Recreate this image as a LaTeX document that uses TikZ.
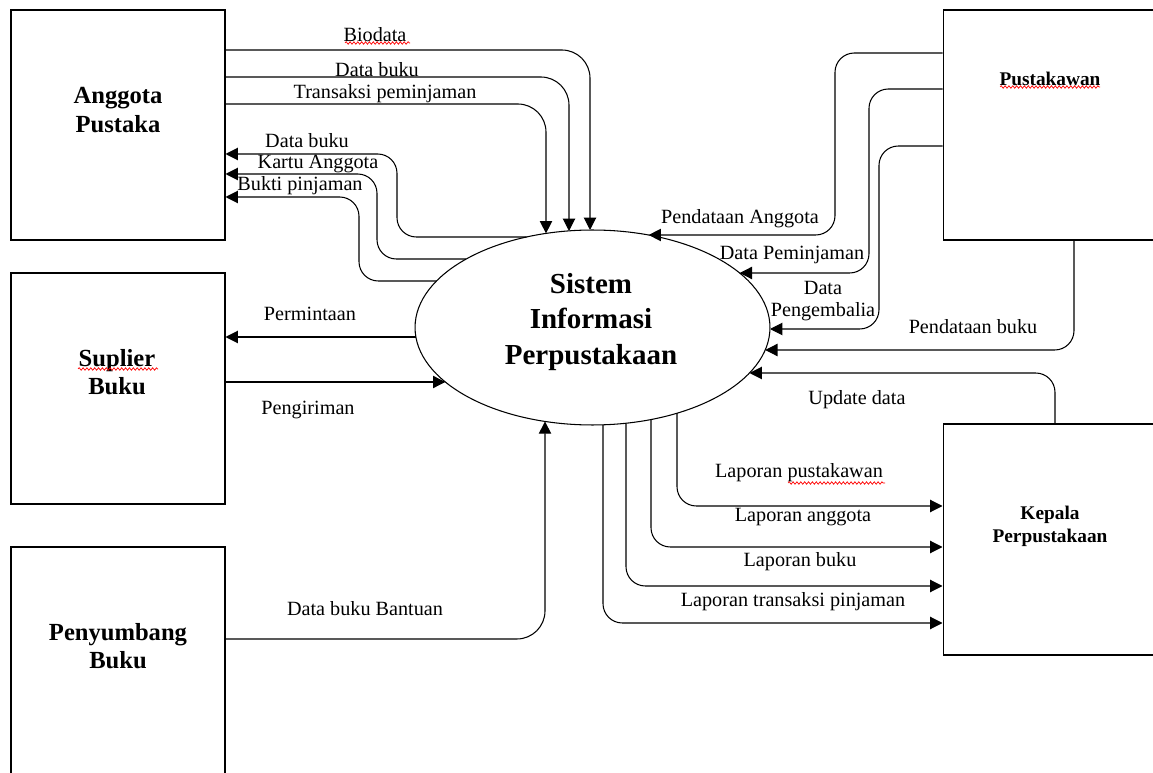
\documentclass[tikz,border=0pt]{standalone}
\usepackage{fontspec}
\setmainfont{Liberation Serif}
\usepackage{tikz}
\usetikzlibrary{arrows.meta}
\usetikzlibrary{shapes.geometric}
\usetikzlibrary{decorations.pathmorphing}

\begin{document}
\begin{tikzpicture}[x=0.02cm,y=-0.02cm]
	\useasboundingbox (0,0) rectangle (1153,773);
	\clip (0,0) rectangle (1153,773);
	\tikzstyle{flow}=[draw,line width=0.6pt,rounded corners=11pt,-{Triangle[length=7pt,width=7pt]}]
	\tikzstyle{squig}=[red,line width=0.4pt,decorate,decoration={snake,amplitude=0.7pt,segment length=2.2pt}]
	\tikzstyle{every node}=[draw,line width=0.6pt,shape=rectangle,minimum width=4.28cm,minimum height=4.6cm]
	\node (ap) at (118,125) {};
	\node (sb) at (118,388.5) [minimum height=4.62cm] {};
	\node (pb) at (118,673.5) [minimum height=5.06cm] {};
	\node (pk) at (1056.5,125) [minimum width=4.54cm] {};
	\node (kp) at (1056.5,539.5) [minimum width=4.54cm,minimum height=4.62cm] {};
	\tikzstyle{every node}=[draw,line width=0.6pt,shape=ellipse,minimum width=7.1cm,minimum height=3.9cm]
	\node (sys) at (592.5,327.5) {};
	\tikzstyle{every node}=[align=center,font=\bfseries\fontsize{14}{16}\selectfont]
	\node (apt) at (118,110) {Anggota\\Pustaka};
	\node (sbt) at (117,372) {Suplier\\Buku};
	\node (pbt) at (118,646) {Penyumbang\\Buku};
	\node (syst) at (591,322) [font=\bfseries\fontsize{16.5}{20}\selectfont] {Sistem\\Informasi\\Perpustakaan};
	\node (pkt) at (1050,79) [font=\bfseries\fontsize{11}{13}\selectfont] {Pustakawan};
	\node (kpt) at (1050,526) [font=\bfseries\fontsize{11}{13}\selectfont] {Kepala\\Perpustakaan};
	\tikzstyle{every node}=[align=center,font=\fontsize{11.5}{12.5}\selectfont]
	\node (lbio) at (375,35) {Biodata};
	\node (ldb1) at (377,70) {Data buku};
	\node (ltp) at (385,94) {Transaksi peminjaman};
	\node (ldb2) at (307,141) {Data buku};
	\node (lka) at (318,164) {Kartu Anggota};
	\node (lbp) at (300,186) {Bukti pinjaman};
	\node (lpm) at (310,314) {Permintaan};
	\node (lpg) at (308,410) {Pengiriman};
	\node (ldbb) at (365,609) {Data buku Bantuan};
	\node (lpa) at (740,219) {Pendataan Anggota};
	\node (ldp) at (792,255) {Data Peminjaman};
	\node (ldk) at (823,301) {Data\\Pengembalia};
	\node (lpb) at (973,327) {Pendataan buku};
	\node (lud) at (857,400) {Update data};
	\node (llp) at (799,473) {Laporan pustakawan};
	\node (lla) at (803,517) {Laporan anggota};
	\node (llb) at (800,562) {Laporan buku};
	\node (llt) at (793,602) {Laporan transaksi pinjaman};
	\coordinate (t1) at (546,233.4);
	\coordinate (t2) at (569,231);
	\coordinate (t3) at (590,230);
	\coordinate (l1) at (526.5,237);
	\coordinate (l2) at (466,259);
	\coordinate (l3) at (436.5,281);
	\coordinate (l4) at (415.8,337);
	\coordinate (l5) at (445.3,382);
	\coordinate (b0) at (545,421.4);
	\coordinate (r1) at (648.6,235);
	\coordinate (r2) at (739.7,273);
	\coordinate (r3) at (770,329);
	\coordinate (r4) at (765.2,350);
	\coordinate (r5) at (749.5,373);
	\coordinate (b1) at (677,413.2);
	\coordinate (b2) at (651,419.6);
	\coordinate (b3) at (626,423.3);
	\coordinate (b4) at (603,424.8);
	\draw[flow,rounded corners=16pt] (ap.east |- 0,50) -- (590,50) -- (t3);
	\draw[flow,rounded corners=16pt] (ap.east |- 0,77) -- (569,77) -- (t2);
	\draw[flow,rounded corners=16pt] (ap.east |- 0,104) -- (546,104) -- (t1);
	\draw[flow] (l1) -- (397,237) -- (397,154) -- (ap.east |- 0,154);
	\draw[flow] (l2) -- (377,259) -- (377,174) -- (ap.east |- 0,174);
	\draw[flow] (l3) -- (359,281) -- (359,197) -- (ap.east |- 0,197);
	\draw[flow] (l4) -- (sb.east |- l4);
	\draw[flow] (sb.east |- l5) -- (l5);
	\draw[flow,rounded corners=16pt] (pb.east |- 0,639) -- (545,639) -- (b0);
	\draw[flow] (pk.west |- 0,53) -- (835,53) -- (835,235) -- (r1);
	\draw[flow] (pk.west |- 0,89) -- (869,89) -- (869,273) -- (r2);
	\draw[flow] (pk.west |- 0,146) -- (879,146) -- (879,329) -- (r3);
	\draw[flow] (pk.south -| 1074,0) -- (1074,350) -- (r4);
	\draw[flow] (kp.north -| 1055,0) -- (1055,373) -- (r5);
	\draw[flow] (b1) -- (677,506) -- (kp.west |- 0,506);
	\draw[flow] (b2) -- (651,547) -- (kp.west |- 0,547);
	\draw[flow] (b3) -- (626,586) -- (kp.west |- 0,586);
	\draw[flow] (b4) -- (603,623) -- (kp.west |- 0,623);
	\draw[squig] (345,43) -- (410,43);
	\draw[squig] (1000,87) -- (1100,87);
	\draw[squig] (78,369) -- (158,369);
	\draw[squig] (788,483) -- (885,483);
\end{tikzpicture}
\end{document}
